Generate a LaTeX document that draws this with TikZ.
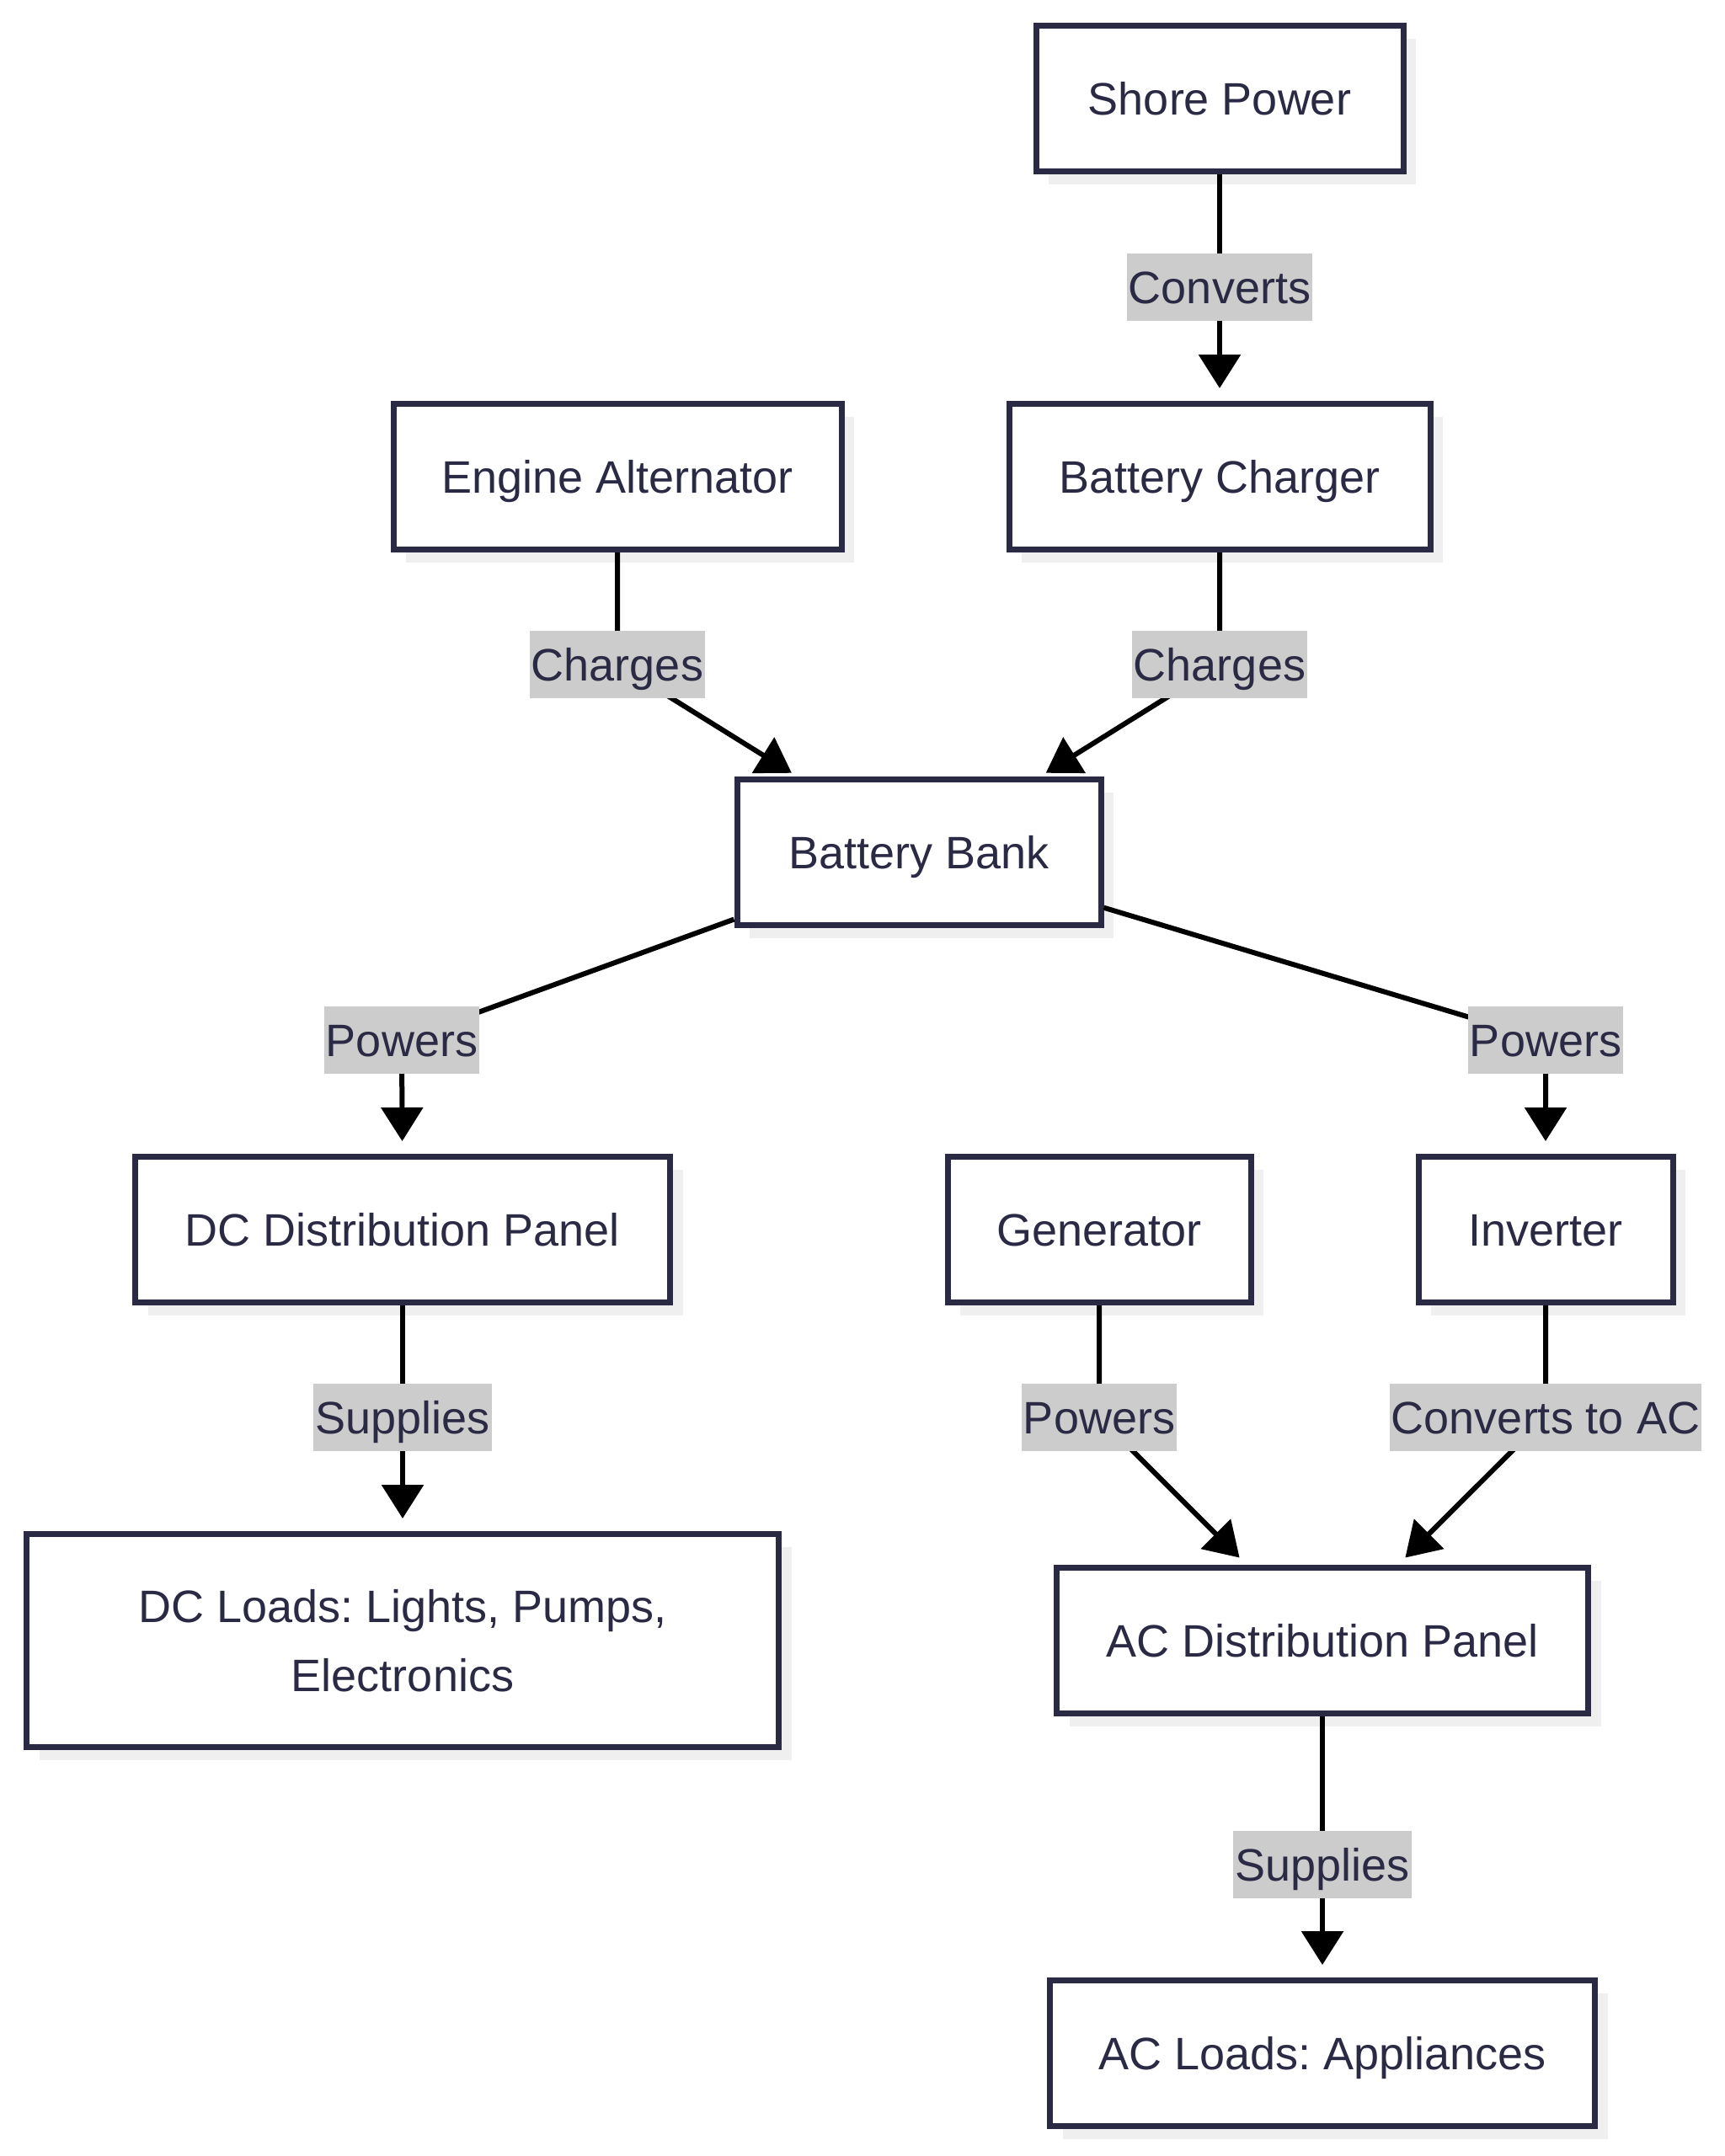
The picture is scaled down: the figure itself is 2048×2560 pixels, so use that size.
\documentclass[tikz,border=0pt]{standalone}
\usepackage{fontspec}
\setmainfont{Liberation Sans}
\usetikzlibrary{arrows.meta,shadows}
\definecolor{bd}{HTML}{2B2A44}
\definecolor{shd}{HTML}{EFEFEF}
\definecolor{lblbg}{HTML}{CCCCCC}
\frenchspacing
\begin{document}
\frenchspacing
\begin{tikzpicture}[x=0.5pt,y=-0.5pt,
  box/.style={draw=bd, line width=3.5pt, fill=white, text=bd,
    font=\fontsize{27}{41}\selectfont, inner sep=0pt, align=center,
    minimum height=86.5pt,
    general shadow={fill=shd, shadow xshift=7.5pt, shadow yshift=-7.5pt}},
  one/.style={text height=22pt, text depth=2.6pt},
  lbl/.style={fill=lblbg, text=bd, font=\fontsize{27}{33}\selectfont,
    inner xsep=1pt, inner ysep=0pt, minimum height=40pt,
    text height=22pt, text depth=2.6pt},
  edge/.style={line width=3pt, draw=black, -{Triangle[width=24.5pt,length=20pt]}}]
\useasboundingbox (0,0) rectangle (2048,2560);
% nodes
\node[box, one, minimum width=218pt] (shore) at (1448,117) {Shore Power};
\node[box, one, minimum width=250pt] (charger) at (1448,566) {Battery Charger};
\node[box, one, minimum width=266pt] (alt) at (733,566) {Engine Alternator};
\node[box, one, minimum width=216pt] (bank) at (1091,1012) {Battery Bank};
\node[box, one, minimum width=317.5pt] (dcd) at (478,1460) {DC Distribution Panel};
\node[box, one, minimum width=180pt] (gen) at (1305,1460) {Generator};
\node[box, one, minimum width=151pt] (inv) at (1835,1460) {Inverter};
\node[box, minimum width=446.5pt, minimum height=126.5pt] (dcl) at (478,1948) {DC Loads: Lights, Pumps,\\Electronics};
\node[box, one, minimum width=315.5pt] (acd) at (1570,1948) {AC Distribution Panel};
\node[box, one, minimum width=323.5pt] (acl) at (1570,2438) {AC Loads: Appliances};
% label positions
\coordinate (c1) at (1448,341);
\coordinate (c2) at (733,789);
\coordinate (c3) at (1448,789);
\coordinate (c4) at (477,1235);
\coordinate (c5) at (1835,1235);
\coordinate (c6) at (478,1683);
\coordinate (c7) at (1305,1683);
\coordinate (c8) at (1835,1683);
\coordinate (c9) at (1570,2214);
% edges
\draw[edge, shorten >=7.5pt] (shore) -- (charger);
\draw[edge, shorten >=4pt] (alt.south) -- (c2) -- (bank);
\draw[edge, shorten >=4pt] (charger.south) -- (c3) -- (bank);
\draw[edge, shorten >=7.5pt] (bank) -- (c4) -- (dcd);
\draw[edge, shorten >=7.5pt] (bank) -- (c5) -- (inv);
\draw[edge, shorten >=7.5pt] (dcd) -- (dcl);
\draw[edge, shorten >=6pt] (gen.south) -- (c7) -- (acd);
\draw[edge, shorten >=6pt] (inv.south) -- (c8) -- (acd);
\draw[edge, shorten >=7.5pt] (acd) -- (acl);
% labels
\node[lbl] (l1) at (c1) {Converts};
\node[lbl] (l2) at (c2) {Charges};
\node[lbl] (l3) at (c3) {Charges};
\node[lbl] (l4) at (c4) {Powers};
\node[lbl] (l5) at (c5) {Powers};
\node[lbl] (l6) at (c6) {Supplies};
\node[lbl] (l7) at (c7) {Powers};
\node[lbl] (l8) at (c8) {Converts to AC};
\node[lbl] (l9) at (c9) {Supplies};
\end{tikzpicture}
\end{document}
